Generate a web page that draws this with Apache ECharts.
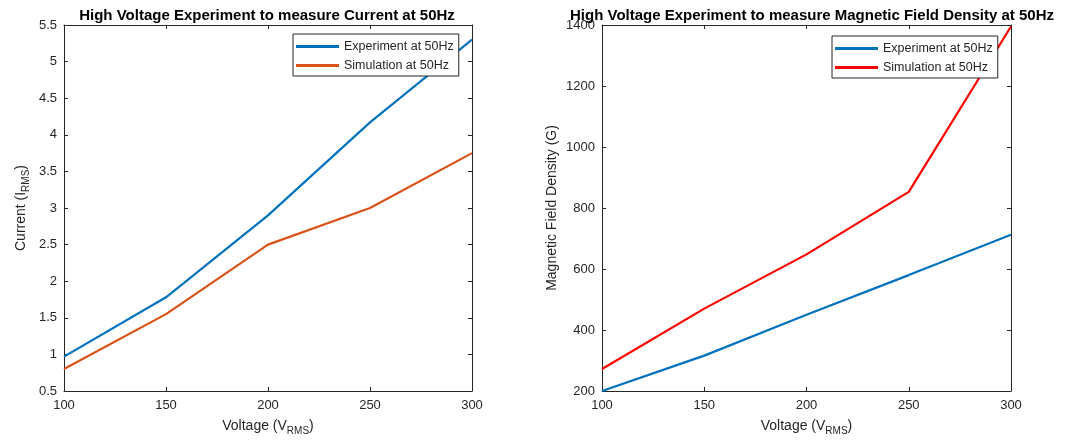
<!DOCTYPE html>
<html>
<head>
<meta charset="utf-8">
<script src="https://cdn.jsdelivr.net/npm/echarts@6/dist/echarts.min.js"></script>
<style>html,body{margin:0;padding:0;background:#fff}#c{width:1068px;height:445px}</style>
</head>
<body>
<div id="c"></div>
<script>
const voltages = [100, 150, 200, 250, 300];
const currentExperiment = [0.97, 1.78, 2.9, 4.17, 5.3];
const currentSimulation = [0.8, 1.55, 2.5, 3.0, 3.75];
const fieldExperiment = [200, 316, 450, 580, 712];
const fieldSimulation = [272, 470, 648, 853, 1395];
const seriesNames = ['Experiment at 50Hz', 'Simulation at 50Hz'];
const titles = ['High Voltage Experiment to measure Current at 50Hz', 'High Voltage Experiment to measure Magnetic Field Density at 50Hz'];

const BLUE = '#0072BD', ORANGE = '#D95319', RED = '#FF0000';
const AX = '#262626';
const FONT = 'Liberation Sans, Arial, Helvetica, sans-serif';

function pairs(ys) { return voltages.map((v, i) => [v, ys[i]]); }
function plain(v) { return String(v); }

const nameRich = {
  base: { fontSize: 14, color: AX, fontFamily: FONT },
  sub: { fontSize: 10, color: AX, fontFamily: FONT, padding: [9, 0, 0, 0] }
};

function xAxes(gi) {
  const common = {
    type: 'value', gridIndex: gi, min: 100, max: 300, interval: 50,
    axisLine: { show: true, lineStyle: { color: AX, width: 1 } },
    axisTick: { show: true, inside: true, length: 4, lineStyle: { color: AX } },
    splitLine: { show: false }
  };
  return [
    Object.assign({}, common, {
      position: 'bottom',
      axisLabel: { color: AX, fontSize: 13, fontFamily: FONT, margin: 8, formatter: plain },
      name: '{base|Voltage (V}{sub|RMS}{base|)}', nameLocation: 'middle', nameGap: 26,
      nameTextStyle: { rich: nameRich }
    }),
    Object.assign({}, common, { position: 'top', axisLabel: { show: false } })
  ];
}

function yAxes(gi, min, max, interval, name, gap) {
  const common = {
    type: 'value', gridIndex: gi, min: min, max: max, interval: interval,
    axisLine: { show: true, lineStyle: { color: AX, width: 1 } },
    axisTick: { show: true, inside: true, length: 4, lineStyle: { color: AX } },
    splitLine: { show: false }
  };
  return [
    Object.assign({}, common, {
      position: 'left',
      axisLabel: { color: AX, fontSize: 13, fontFamily: FONT, margin: 7, formatter: plain },
      name: name, nameLocation: 'middle', nameGap: gap,
      nameTextStyle: { rich: nameRich }
    }),
    Object.assign({}, common, { position: 'right', axisLabel: { show: false } })
  ];
}

const legendCommon = {
  orient: 'vertical', icon: 'rect', itemWidth: 43, itemHeight: 3, itemGap: 6,
  backgroundColor: '#fff', borderColor: AX, borderWidth: 1, borderRadius: 0,
  padding: [6, 5, 4, 3], selectedMode: false,
  textStyle: { color: AX, fontSize: 12.5, fontFamily: FONT }
};

const titleStyle = { fontSize: 15, fontWeight: 'bold', color: '#000', fontFamily: FONT };

const option = {
  animation: false,
  title: [
    { text: titles[0], left: 262, textAlign: 'center', top: 3, textStyle: titleStyle },
    { text: titles[1], left: 807, textAlign: 'center', top: 3, textStyle: titleStyle }
  ],
  grid: [
    { left: 64, right: 596, top: 25, bottom: 54 },
    { left: 602, right: 57, top: 25, bottom: 54 }
  ],
  xAxis: xAxes(0).concat(xAxes(1)),
  yAxis: yAxes(0, 0.5, 5.5, 0.5, '{base|Current (I}{sub|RMS}{base|)}', 33)
    .concat(yAxes(1, 200, 1400, 200, '{base|Magnetic Field Density (G)}', 43)),
  legend: [
    Object.assign({}, legendCommon, { left: 293, top: 34,
      data: [{ name: seriesNames[0], itemStyle: { color: BLUE } }, { name: seriesNames[1], itemStyle: { color: ORANGE } }] }),
    Object.assign({}, legendCommon, { left: 832, top: 36,
      data: [{ name: seriesNames[0], itemStyle: { color: BLUE } }, { name: seriesNames[1], itemStyle: { color: RED } }] })
  ],
  series: [
    { name: seriesNames[0], type: 'line', xAxisIndex: 0, yAxisIndex: 0, data: pairs(currentExperiment),
      showSymbol: false, lineStyle: { color: BLUE, width: 2.2 }, itemStyle: { color: BLUE } },
    { name: seriesNames[1], type: 'line', xAxisIndex: 0, yAxisIndex: 0, data: pairs(currentSimulation),
      showSymbol: false, lineStyle: { color: ORANGE, width: 2.2 }, itemStyle: { color: ORANGE } },
    { name: seriesNames[0], type: 'line', xAxisIndex: 2, yAxisIndex: 2, data: pairs(fieldExperiment),
      showSymbol: false, lineStyle: { color: BLUE, width: 2.2 }, itemStyle: { color: BLUE } },
    { name: seriesNames[1], type: 'line', xAxisIndex: 2, yAxisIndex: 2, data: pairs(fieldSimulation),
      showSymbol: false, lineStyle: { color: RED, width: 2.2 }, itemStyle: { color: RED } }
  ]
};

const chart = echarts.init(document.getElementById('c'), null, { renderer: 'canvas' });
chart.setOption(option);
</script>
</body>
</html>
